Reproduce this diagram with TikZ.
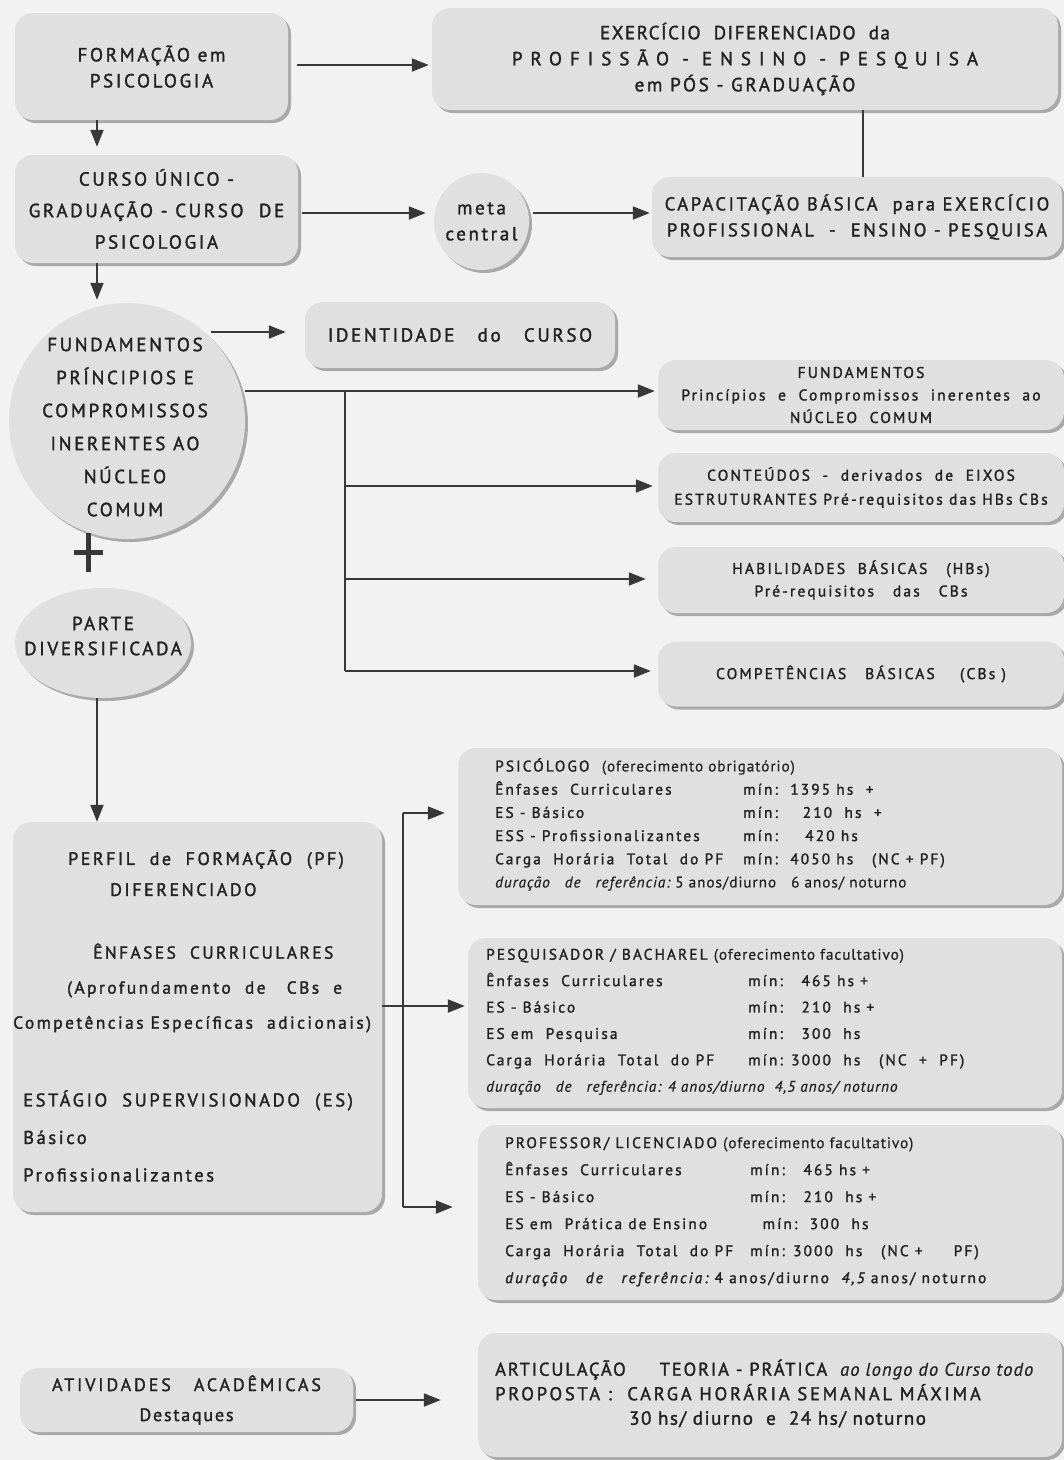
\documentclass[tikz,border=0pt]{standalone}
\usepackage{fontspec}
\setmainfont{PT Sans}[LetterSpace=14, FakeBold=1.6]
\newfontfamily\lt{PT Sans}[LetterSpace=6, FakeBold=0.4]
\usetikzlibrary{arrows.meta,shadows,shapes.geometric,calc}
\definecolor{bgc}{HTML}{F2F2F2}
\definecolor{boxc}{HTML}{E0E0E0}
\definecolor{shc}{HTML}{A9A9A9}
\definecolor{txtc}{HTML}{222222}
\definecolor{linec}{HTML}{383838}
\newcommand\fs[2]{\fontsize{#1}{#2}\selectfont}
\newcommand\wsp[1]{\addfontfeature{LetterSpace=#1}}
\tikzset{
  box/.style={fill=boxc, rounded corners=18pt, inner sep=0pt, align=center, text=txtc,
    drop shadow={shadow xshift=3pt, shadow yshift=-3pt, fill=shc, opacity=1}},
  oval/.style={ellipse, fill=boxc, inner sep=0pt,
    drop shadow={shadow xshift=3pt, shadow yshift=-3pt, fill=shc, opacity=1}},
  plain/.style={inner sep=0pt, text=txtc},
  arr/.style={draw=linec, line width=2pt, -{Triangle[length=17pt,width=13pt]}},
  ln/.style={draw=linec, line width=1.6pt},
}
\begin{document}
\begin{tikzpicture}[x=1pt,y=-1pt]
\useasboundingbox (0,0) rectangle (1064,1460);
\fill[bgc] (0,0) rectangle (1064,1460);

% helper positions
\coordinate (ax) at (97,0);
\coordinate (dx) at (863,0);
\coordinate (bx) at (345,0);
\coordinate (hx) at (403,0);
\coordinate (yab) at (0,65);
\coordinate (ycm) at (0,213);
\coordinate (yfe) at (0,332);
\coordinate (r1) at (0,391);
\coordinate (r2) at (0,486);
\coordinate (r3) at (0,579);
\coordinate (r4) at (0,671);
\coordinate (t1) at (0,813);
\coordinate (t2) at (0,1006);
\coordinate (t3) at (0,1207);

% top
\node[box, minimum width=273, minimum height=107, font=\fs{19}{26}] (A) at (151.5,66.5)
  {FORMAÇÃO em\\PSICOLOGIA};
\node[box, minimum width=626, minimum height=102, font=\fs{19}{26}] (B) at (745,59)
  {{\wsp{8}EXERCÍCIO\ \ DIFERENCIADO\ \ da}\\{\wsp{42}PROFISSÃO - ENSINO - PESQUISA}\\em PÓS - GRADUAÇÃO};
\node[box, minimum width=283, minimum height=108, font=\fs{19}{31.5}] (C) at (156.5,209)
  {CURSO ÚNICO -\\GRADUAÇÃO - CURSO\ \ DE\\PSICOLOGIA};
\node[oval, minimum width=95, minimum height=97] (M) at (481.5,221.5) {};
\node[plain, align=center, font=\fs{19}{26}] (mt) at (M.center) {meta\\central};
\node[box, minimum width=410, minimum height=80, font=\fs{18.5}{26}] (D) at (857,217)
  {CAPACITAÇÃO BÁSICA\ \ para EXERCÍCIO\\PROFISSIONAL\ \ -\ \ ENSINO - PESQUISA};

% middle
\node[box, minimum width=310, minimum height=66, font=\fs{19}{26}] (E) at (460,335)
  {IDENTIDADE\ \ \ do\ \ \ CURSO};
\node[oval, minimum width=236, minimum height=236] (F) at (127,421) {};
\node[plain, align=center, font=\fs{19}{33}] (ft) at (125,427)
  {FUNDAMENTOS\\PRÍNCIPIOS E\\COMPROMISSOS\\INERENTES AO\\NÚCLEO\\COMUM};
\node[oval, minimum width=176, minimum height=110] (G) at (103,643) {};
\node[plain, align=center, font=\fs{19}{25}] (gt) at (103,636) {PARTE\\DIVERSIFICADA};
\draw[linec, line width=5pt] (74,552) -- (103,552) (88,533) -- (88,572);

\node[box, minimum width=406, minimum height=70, font=\fs{15.5}{22.5}] (I1) at (861,395)
  {FUNDAMENTOS\\Princípios\ \ e\ \ Compromissos\ \ inerentes\ \ ao\\NÚCLEO\ \ COMUM};
\node[box, minimum width=406, minimum height=69, font=\fs{15.5}{24}] (I2) at (861,487.5)
  {CONTEÚDOS\ \ -\ \ derivados\ \ de\ \ EIXOS\\ESTRUTURANTES Pré-requisitos das HBs CBs};
\node[box, minimum width=406, minimum height=66, font=\fs{15.5}{22.5}] (I3) at (861,580)
  {HABILIDADES\ \ BÁSICAS\ \ \ (HBs)\\Pré-requisitos\ \ \ das\ \ \ CBs};
\node[box, minimum width=406, minimum height=65, font=\fs{15.5}{24}] (I4) at (861,674)
  {COMPETÊNCIAS\ \ \ BÁSICAS\ \ \ \ (CBs )};

% lower
\node[box, minimum width=369, minimum height=390] (H) at (197.5,1017) {};
\node[plain, align=left, anchor=west, font=\fs{18}{31}] (h1) at (68,873)
  {PERFIL\ \ de\ \ FORMAÇÃO\ \ (PF)\\\hspace*{42pt}DIFERENCIADO};
\node[plain, align=left, anchor=west, font=\fs{17.4}{35}] (h2) at (13,988)
  {\hspace*{80pt}ÊNFASES\ \ CURRICULARES\\\hspace*{54pt}(Aprofundamento\ \ de\ \ \ CBs\ \ e\\Competências Específicas\ \ adicionais)};
\node[plain, align=left, anchor=west, font=\fs{18.5}{37.5}] (h3) at (23,1136)
  {ESTÁGIO\ \ SUPERVISIONADO\ \ (ES)\\Básico\\Profissionalizantes};

\node[box, minimum width=604, minimum height=157] (J1) at (760,826.5) {};
\node[plain, anchor=north west, font=\fs{15.3}{23.2}] (j1) at (495,755)
  {\begin{tabular}{@{}p{248pt}@{}l@{}}
   \multicolumn{2}{@{}l@{}}{PSICÓLOGO\ \ {\lt (oferecimento\ obrigatório)}}\\
   Ênfases\ \ Curriculares & mín:\ \ 1395 hs\ \ +\\
   ES - Básico & mín:\ \ \ \ 210\ \ hs\ \ +\\
   ESS - Profissionalizantes & mín:\ \ \ \ \,420 hs\\
   Carga\ \ Horária\ \ Total\ \ do PF & mín:\ \ 4050 hs\ \ \ (NC + PF)\\
   \multicolumn{2}{@{}l@{}}{\lt\itshape duração\ \ \ de\ \ \ referência:\ {\upshape 5 anos/diurno\ \ \ 6 anos/ noturno}}
  \end{tabular}};

\node[box, minimum width=594, minimum height=170] (J2) at (765,1023) {};
\node[plain, anchor=north west, font=\fs{15.3}{26.4}] (j2) at (486,941)
  {\begin{tabular}{@{}p{262pt}@{}l@{}}
   \multicolumn{2}{@{}l@{}}{PESQUISADOR / BACHAREL {\lt (oferecimento facultativo)}}\\
   Ênfases\ \ Curriculares & mín:\ \ \ 465 hs +\\
   ES - Básico & mín:\ \ \ 210\ \ hs +\\
   ES em\ \ Pesquisa & mín:\ \ \ 300\ \ hs\\
   Carga\ \ Horária\ \ Total\ \ do PF & mín: 3000\ \ hs\ \ \ (NC\ \ +\ \ PF)\\
   \multicolumn{2}{@{}l@{}}{\lt\itshape duração\ \ \ de\ \ \ referência: 4 anos/diurno\ \ 4,5 anos/ noturno}
  \end{tabular}};

\node[box, minimum width=584, minimum height=175] (J3) at (770,1212.5) {};
\node[plain, anchor=north west, font=\fs{15.3}{27}] (j3) at (505,1129)
  {\begin{tabular}{@{}p{245pt}@{}l@{}}
   \multicolumn{2}{@{}l@{}}{PROFESSOR/ LICENCIADO {\lt (oferecimento facultativo)}}\\
   Ênfases\ \ Curriculares & mín:\ \ \ 465 hs +\\
   ES - Básico & mín:\ \ \ 210\ \ hs +\\
   ES em\ \ Prática de Ensino & \ \ mín:\ \ 300\ \ hs\\
   Carga\ \ Horária\ \ Total\ \ do PF & mín: 3000\ \ hs\ \ \ (NC +\ \ \ \ \ PF)\\
   \multicolumn{2}{@{}l@{}}{\itshape duração\ \ \ de\ \ \ referência:{\upshape\ 4 anos/diurno\ \ }4,5{\upshape\ anos/ noturno}}
  \end{tabular}};

\node[box, minimum width=333, minimum height=64, font=\fs{18}{30}] (K) at (186.5,1400)
  {{\wsp{16}ATIVIDADES\ \ \ ACADÊMICAS}\\{\wsp{10}Destaques}};
\node[box, minimum width=584, minimum height=124] (L) at (770,1395) {};
\node[plain, anchor=west, align=left, font=\fs{18.5}{24.5}] (l1) at (495,1393.5)
  {{\wsp{10}ARTICULAÇÃO\ \ \ \ \ TEORIA - PRÁTICA\ {\lt\itshape\wsp{6}\fs{18.5}{24.5} ao longo do Curso todo}}\\
   {\wsp{15}PROPOSTA :\ \ CARGA HORÁRIA SEMANAL MÁXIMA}\\
   \hspace*{134pt}{\wsp{8}\fs{19}{24.5}30 hs/ diurno\ \ e\ \ 24 hs/ noturno}};

% connectors
\draw[arr, shorten <=9pt, shorten >=3pt] (A.east |- yab) -- (B.west |- yab);
\draw[arr, shorten >=8pt] (ax |- A.south) -- (ax |- C.north);
\draw[ln] (dx |- B.south) -- (dx |- D.north);
\draw[arr, shorten <=4pt, shorten >=8pt] (C.east |- ycm) -- (M.west |- ycm);
\draw[arr, shorten <=4pt, shorten >=2pt] (M.east |- ycm) -- (D.west |- ycm);
\draw[arr, shorten >=3pt] (ax |- C.south) -- (ax |- F.north);
\draw[arr, shorten >=19pt] (F.north east |- yfe) -- (E.west |- yfe);
\draw[ln] (F.east |- r1) -- (bx |- r1) -- (bx |- r4);
\draw[arr, shorten >=3pt] (bx |- r1) -- (I1.west |- r1);
\draw[arr, shorten >=5pt] (bx |- r2) -- (I2.west |- r2);
\draw[arr, shorten >=12pt] (bx |- r3) -- (I3.west |- r3);
\draw[arr, shorten >=7pt] (bx |- r4) -- (I4.west |- r4);
\draw[arr] (ax |- G.south) -- (ax |- H.north);
\draw[ln] (hx |- t1) -- (hx |- t3);
\draw[arr, shorten >=3pt] (H.east |- t2) -- (J2.west |- t2);
\draw[arr, shorten >=13pt] (hx |- t1) -- (J1.west |- t1);
\draw[arr, shorten >=25pt] (hx |- t3) -- (J3.west |- t3);
\draw[arr, shorten <=3pt, shorten >=37pt] (K.east) -- (K.east -| L.west);
\end{tikzpicture}
\end{document}
